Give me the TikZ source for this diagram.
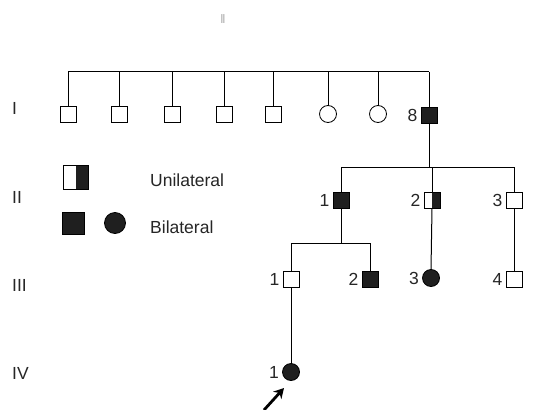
\documentclass[tikz,border=0pt]{standalone}
\usepackage{fontspec}
\setmainfont{Liberation Sans}
\usetikzlibrary{positioning,arrows.meta}

\tikzset{
  male/.style={draw, rectangle, minimum size=16pt, inner sep=0pt, line width=0.8pt},
  female/.style={draw, circle, minimum size=17pt, inner sep=0pt, line width=0.8pt},
  aff/.style={fill=black!88},
  halfaff/.style={path picture={\fill[black!88] (path picture bounding box.north)
      rectangle (path picture bounding box.south east);}},
  lbl/.style={font=\fontsize{17.5}{19}\selectfont, inner sep=0pt, text=black!85},
  gen/.style={lbl, anchor=west},
  link/.style={line width=1pt},
  proband/.style={line width=2.8pt, -{Stealth[length=10pt,width=11pt]}}
}

\begin{document}
\begin{tikzpicture}[x=1pt,y=-1pt]
  \useasboundingbox (0,0) rectangle (534,409);

  \node[lbl, text=black!60, xscale=0.5, font=\fontsize{13}{13}\selectfont] (mark) at (223,19) {II};

  % generation labels
  \node[gen] (g1) at (12,108) {I};
  \node[gen] (g2) at (12,197) {II};
  \node[gen] (g3) at (12,285) {III};
  \node[gen] (g4) at (12,373) {IV};

  % legend
  \node[male, minimum width=25pt, minimum height=24pt, halfaff] (keyuni) at (76,177) {};
  \node[male, aff, minimum size=22pt] (keysq) at (73,223) {};
  \node[female, aff, minimum size=21pt] (keyci) at (115,223) {};
  \node[gen] (tuni) at (150,180) {Unilateral};
  \node[gen] (tbil) at (150,227) {Bilateral};

  % generation I
  \coordinate (sibI) at (0,72);
  \node[male]        (i1) at (68,114) {};
  \node[male]        (i2) at (119,114) {};
  \node[male]        (i3) at (172,114) {};
  \node[male]        (i4) at (224,114) {};
  \node[male]        (i5) at (273,114) {};
  \node[female]      (i6) at (328,114) {};
  \node[female]      (i7) at (378,114) {};
  \node[male, aff]   (i8) at (429,115) {};
  \node[lbl, left=3pt of i8] (n8) {8};

  \draw[link] (i1 |- sibI) -- (i8 |- sibI);
  \foreach \p in {i1,i2,i3,i4,i5,i6,i7,i8}
    \draw[link] (\p |- sibI) -- (\p.north);

  % generation II
  \coordinate (sibII) at (0,167);
  \node[male, aff]     (ii1) at (341,200) {};
  \node[male, halfaff] (ii2) at (432,200) {};
  \node[male]          (ii3) at (514,200) {};
  \node[lbl, left=3pt of ii1] (m1) {1};
  \node[lbl, left=3pt of ii2] (m2) {2};
  \node[lbl, left=3pt of ii3] (m3) {3};

  \draw[link] (i8.south) -- (i8 |- sibII);
  \draw[link] (ii1 |- sibII) -- (ii3 |- sibII);
  \foreach \p in {ii1,ii2,ii3}
    \draw[link] (\p |- sibII) -- (\p.north);

  % generation III
  \coordinate (sibIII) at (0,243);
  \node[male]        (iii1) at (291,279) {};
  \node[male, aff]   (iii2) at (370,279) {};
  \node[female, aff] (iii3) at (431,278) {};
  \node[male]        (iii4) at (514,279) {};
  \node[lbl, left=3pt of iii1] (k1) {1};
  \node[lbl, left=3pt of iii2] (k2) {2};
  \node[lbl, left=3pt of iii3] (k3) {3};
  \node[lbl, left=3pt of iii4] (k4) {4};

  \draw[link] (ii1.south) -- (ii1 |- sibIII);
  \draw[link] (iii1 |- sibIII) -- (iii2 |- sibIII);
  \draw[link] (iii1 |- sibIII) -- (iii1.north);
  \draw[link] (iii2 |- sibIII) -- (iii2.north);
  \draw[link] (ii2.south) -- (iii3.north);
  \draw[link] (ii3.south) -- (iii4.north);

  % generation IV
  \node[female, aff] (iv1) at (291,372) {};
  \node[lbl, left=3pt of iv1] (p1) {1};
  \draw[link] (iii1.south) -- (iv1.north);

  \coordinate (arrtail) at (264,410);
  \coordinate (arrhead) at (284,388);
  \draw[proband] (arrtail) -- (arrhead);
\end{tikzpicture}
\end{document}
